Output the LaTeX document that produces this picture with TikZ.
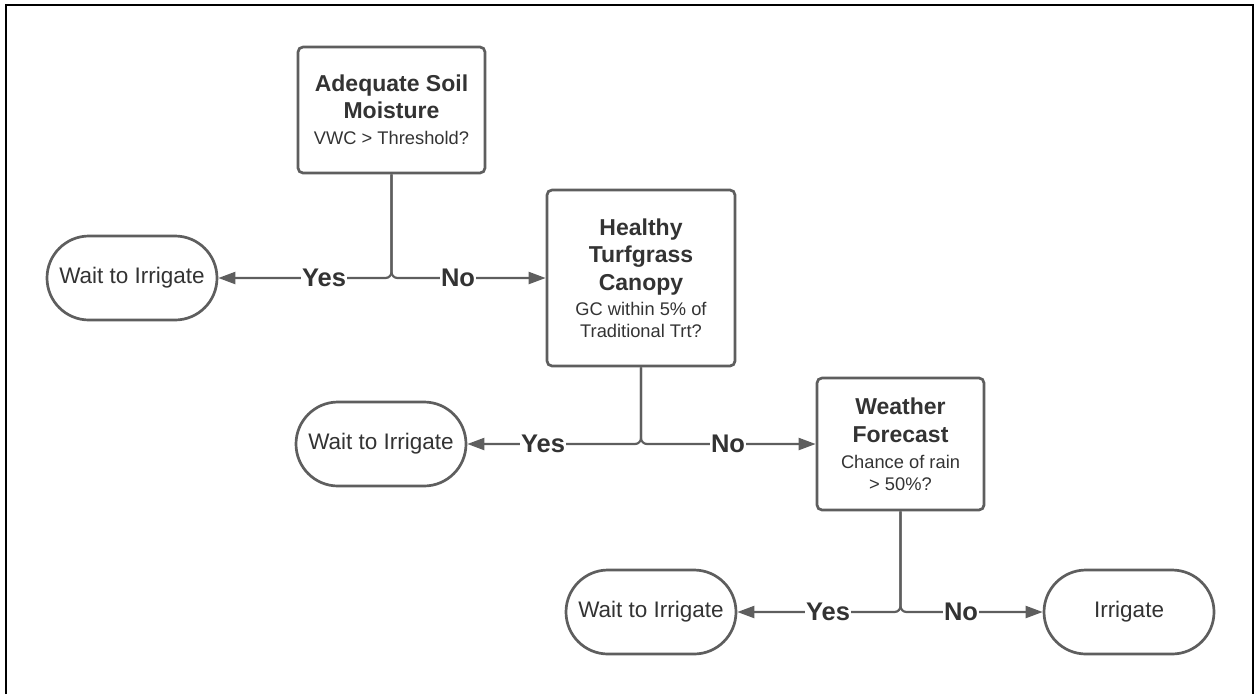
\documentclass[tikz,border=0pt]{standalone}
\usepackage{fontspec}
\setmainfont{Liberation Sans}
\usetikzlibrary{arrows.meta,shapes.misc}
\definecolor{linegray}{HTML}{5E5E5E}
\definecolor{textgray}{HTML}{333333}
\newcommand{\tfnt}{\fontsize{23}{27.5}\selectfont\bfseries}
\newcommand{\sfnt}{\fontsize{18.3}{22}\selectfont}
\begin{document}
\begin{tikzpicture}[x=1pt,y=-1pt,
  decision/.style={draw=linegray, line width=2.7pt, rounded corners=5pt, rectangle,
    align=center, text=textgray, font=\sfnt, inner sep=0pt},
  terminal/.style={draw=linegray, line width=2.7pt, rounded rectangle, minimum width=170pt,
    minimum height=84pt, text=textgray, font=\fontsize{22.5}{27}\selectfont, inner sep=0pt},
  conn/.style={draw=linegray, line width=2.2pt, rounded corners=6pt,
    -{Triangle[length=17pt,width=12pt]}},
  lbl/.style={fill=white, text=textgray, font=\fontsize{25.5}{30}\selectfont\bfseries,
    inner sep=1pt}]
\useasboundingbox (0,0) rectangle (1257,694);
\draw[black, line width=2pt] (6,694) -- (6,5) -- (1253,5) -- (1253,694);

\node[decision, minimum width=187pt, minimum height=126pt] (b1) at (391.5,110)
  {{\tfnt Adequate Soil}\\[5.5pt]{\tfnt Moisture}\\[4pt]VWC > Threshold?};
\node[decision, minimum width=188pt, minimum height=176pt] (b2) at (641,278)
  {{\tfnt Healthy}\\[5.5pt]{\tfnt Turfgrass}\\[5.5pt]{\tfnt Canopy}\\[3pt]GC within 5\% of\\Traditional Trt?};
\node[decision, minimum width=167pt, minimum height=132pt] (b3) at (900.5,444)
  {{\tfnt Weather}\\[5.5pt]{\tfnt Forecast}\\[4pt]Chance of rain\\> 50\%?};

\node[terminal] (w1) at (132,278) {Wait to Irrigate};
\node[terminal] (w2) at (381,444) {Wait to Irrigate};
\node[terminal] (w3) at (651,612) {Wait to Irrigate};
\node[terminal] (ir) at (1129,612) {Irrigate};

\draw[conn] (b1.south) |- (w1.east);
\draw[conn] (b1.south) |- (b2.west);
\draw[conn] (b2.south) |- (w2.east);
\draw[conn] (b2.south) |- (b3.west);
\draw[conn] (b3.south) |- (w3.east);
\draw[conn] (b3.south) |- (ir.west);

\node[lbl] (y1) at (324,278) {Yes};
\node[lbl] (n1) at (458,278) {No};
\node[lbl] (y2) at (543,444) {Yes};
\node[lbl] (n2) at (728,444) {No};
\node[lbl] (y3) at (828,612) {Yes};
\node[lbl] (n3) at (961,612) {No};
\end{tikzpicture}
\end{document}
